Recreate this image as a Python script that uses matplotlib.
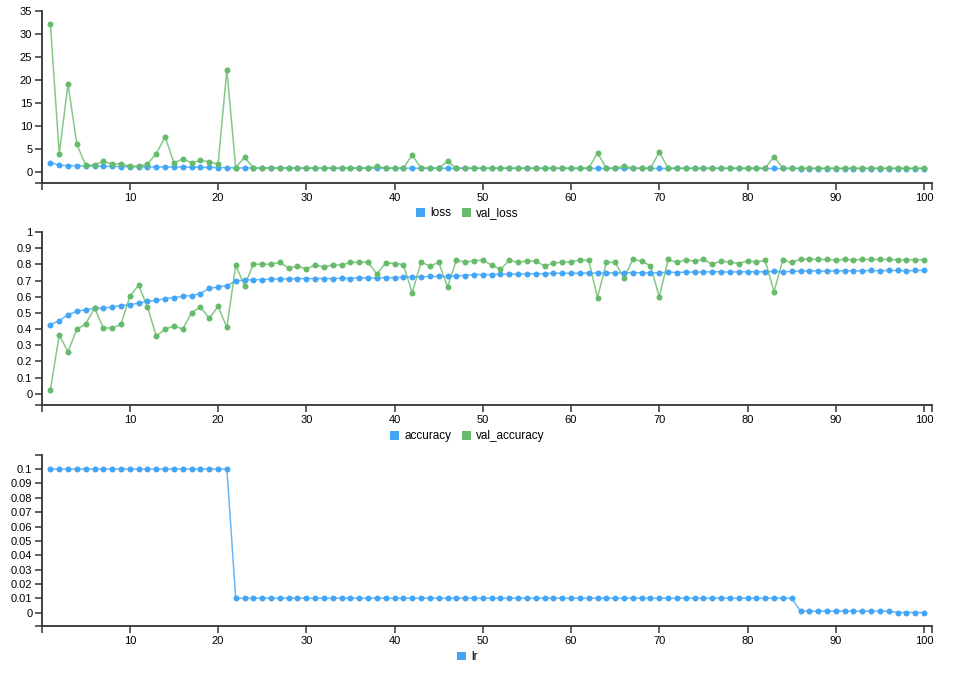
import matplotlib.pyplot as plt
from matplotlib.patches import Patch

plt.rcParams['font.family'] = ['Liberation Sans', 'DejaVu Sans']

epochs = list(range(1, 101))

loss = [2.05, 1.45, 1.38, 1.32, 1.28, 1.25, 1.22, 1.20, 1.18, 1.16,
        1.14, 1.12, 1.10, 1.08, 1.06, 1.05, 1.03, 1.01, 0.97, 0.95,
        0.93, 0.88, 0.87,
        0.86, 0.86, 0.85, 0.85, 0.85, 0.84, 0.84, 0.84, 0.84, 0.83,
        0.83, 0.83, 0.83, 0.82, 0.82, 0.82, 0.82, 0.81, 0.81, 0.81,
        0.81, 0.81, 0.80, 0.80, 0.80, 0.79, 0.79, 0.79, 0.79, 0.79,
        0.78, 0.78, 0.78, 0.78, 0.78, 0.78, 0.77, 0.77, 0.77, 0.77,
        0.77, 0.77, 0.77, 0.77, 0.77, 0.76, 0.76, 0.76, 0.76, 0.76,
        0.76, 0.76, 0.76, 0.76, 0.76, 0.76, 0.75, 0.75, 0.75, 0.75,
        0.75, 0.75, 0.74, 0.74, 0.74, 0.74, 0.74, 0.74, 0.74, 0.74,
        0.74, 0.74, 0.74, 0.74, 0.74, 0.74, 0.74]

val_loss = [32.2, 4.0, 19.1, 6.0, 1.5, 1.5, 2.3, 1.7, 1.8, 1.2,
            1.2, 1.7, 4.0, 7.6, 2.0, 2.8, 2.0, 2.5, 2.2, 1.7,
            22.2, 0.9, 3.2,
            0.86, 0.85, 0.86, 0.84, 0.86, 0.85, 0.85, 0.84, 0.85, 0.84,
            0.84, 0.84, 0.85, 0.83, 1.2, 0.83, 0.84, 0.84, 3.7, 0.83,
            0.84, 0.83, 2.3, 0.83, 0.83, 0.83, 0.83, 0.84, 0.84, 0.83,
            0.83, 0.84, 0.83, 0.83, 0.83, 0.84, 0.83, 0.83, 0.82, 4.1,
            0.83, 0.82, 1.3, 0.82, 0.82, 0.83, 4.3, 0.82, 0.82, 0.82,
            0.82, 0.82, 0.83, 0.82, 0.82, 0.82, 0.82, 0.82, 0.82, 3.3,
            0.82, 0.81, 0.81, 0.81, 0.81, 0.81, 0.81, 0.81, 0.81, 0.81,
            0.81, 0.81, 0.81, 0.81, 0.81, 0.81, 0.81]

accuracy = [0.427, 0.451, 0.489, 0.509, 0.520, 0.528, 0.530, 0.536, 0.545, 0.549,
            0.561, 0.571, 0.578, 0.588, 0.594, 0.602, 0.607, 0.619, 0.652, 0.660,
            0.669, 0.696, 0.704, 0.704, 0.706, 0.708, 0.710, 0.710, 0.712, 0.712,
            0.712, 0.712,
            0.712, 0.714, 0.712, 0.718, 0.716, 0.716, 0.718, 0.718, 0.720, 0.723,
            0.723, 0.725, 0.725, 0.725, 0.729, 0.731, 0.737, 0.737, 0.737, 0.739,
            0.739, 0.739, 0.741, 0.741, 0.743, 0.745, 0.745, 0.745, 0.745, 0.747,
            0.745, 0.747, 0.747, 0.747, 0.749, 0.747, 0.747,
            0.747, 0.752, 0.749, 0.752, 0.752, 0.752, 0.754, 0.754, 0.752, 0.754,
            0.754, 0.754, 0.754, 0.756, 0.754, 0.756, 0.758, 0.760, 0.758, 0.758,
            0.760, 0.760, 0.760, 0.760, 0.762, 0.760, 0.762, 0.762, 0.760, 0.762,
            0.762]

val_accuracy = [0.025, 0.362, 0.259, 0.400, 0.431, 0.530, 0.406, 0.406, 0.429, 0.602,
                0.671, 0.536, 0.356, 0.400, 0.418, 0.400, 0.501, 0.536, 0.466, 0.540,
                0.410, 0.793, 0.669, 0.801, 0.801, 0.801, 0.812, 0.776, 0.789, 0.772,
                0.795, 0.783,
                0.797, 0.795, 0.812, 0.812, 0.814, 0.739, 0.810, 0.805, 0.799, 0.623,
                0.814, 0.789, 0.812, 0.660, 0.826, 0.814, 0.822, 0.826, 0.795, 0.770,
                0.824, 0.812, 0.822, 0.818, 0.791, 0.807, 0.814, 0.814, 0.828, 0.824,
                0.594, 0.812, 0.812, 0.716, 0.830,
                0.820, 0.791, 0.598, 0.830, 0.812, 0.828, 0.820, 0.830, 0.801, 0.820,
                0.814, 0.805, 0.822, 0.816, 0.824, 0.631, 0.828, 0.812, 0.832, 0.832,
                0.830, 0.830, 0.826, 0.830, 0.828, 0.830, 0.830, 0.830, 0.830, 0.828,
                0.828, 0.828, 0.828]

lr = [0.1] * 21 + [0.01] * 64 + [0.001] * 11 + [0.0001] * 4

x_ticks = [10, 20, 30, 40, 50, 60, 70, 80, 90, 100]

blue = '#42a5f5'
green = '#66bb6a'
axis_col = '#333333'

fig = plt.figure(figsize=(9.68, 6.84), dpi=100)


def panel(rect, series, ylim, yticks, ylabels, legend_y):
    ax = fig.add_axes(rect)
    for name, vals, col in series:
        ax.plot(epochs, vals, color=col, lw=1.1, alpha=0.8, zorder=2)
        ax.plot(epochs, vals, color=col, lw=0, marker='o', ms=4.3,
                markeredgewidth=0, zorder=3)
    ax.set_xlim(0.05, 100.9)
    ax.set_ylim(*ylim)
    ax.set_xticks(x_ticks)
    ax.set_xticklabels([str(t) for t in x_ticks])
    ax.set_yticks(yticks)
    ax.set_yticklabels(ylabels)
    # outer ticks at the ends of each axis, like d3
    ax.set_xticks([0.05, 100.9], minor=True)
    ax.set_yticks(list(ylim), minor=True)
    for s in ['top', 'right']:
        ax.spines[s].set_visible(False)
    for s in ['left', 'bottom']:
        ax.spines[s].set_color(axis_col)
        ax.spines[s].set_linewidth(1.3)
    ax.tick_params(which='both', direction='out', length=5, width=1.1,
                   color=axis_col, labelsize=8, pad=2, labelcolor='black')
    handles = [Patch(facecolor=c, edgecolor='none', label=n) for n, v, c in series]
    fig.legend(handles=handles, loc='center', bbox_to_anchor=(0.483, legend_y),
               ncol=len(series), frameon=False, fontsize=8.5, handlelength=0.75,
               handleheight=0.75, handletextpad=0.45, columnspacing=0.9)
    return ax


panel([0.0434, 0.7325, 0.9194, 0.2515],
      [('loss', loss, blue), ('val_loss', val_loss, green)],
      (-2.4, 35), [0, 5, 10, 15, 20, 25, 30, 35],
      ['0', '5', '10', '15', '20', '25', '30', '35'], 0.688)

panel([0.0434, 0.4079, 0.9194, 0.2529],
      [('accuracy', accuracy, blue), ('val_accuracy', val_accuracy, green)],
      (-0.07, 1.0), [0, 0.1, 0.2, 0.3, 0.4, 0.5, 0.6, 0.7, 0.8, 0.9, 1.0],
      ['0', '0.1', '0.2', '0.3', '0.4', '0.5', '0.6', '0.7', '0.8', '0.9', '1'], 0.362)

panel([0.0434, 0.0848, 0.9194, 0.2504],
      [('lr', lr, blue)],
      (-0.0093, 0.11), [0, 0.01, 0.02, 0.03, 0.04, 0.05, 0.06, 0.07, 0.08, 0.09, 0.1],
      ['0', '0.01', '0.02', '0.03', '0.04', '0.05', '0.06', '0.07', '0.08', '0.09', '0.1'],
      0.0395)

plt.savefig('out.png', dpi=100)
